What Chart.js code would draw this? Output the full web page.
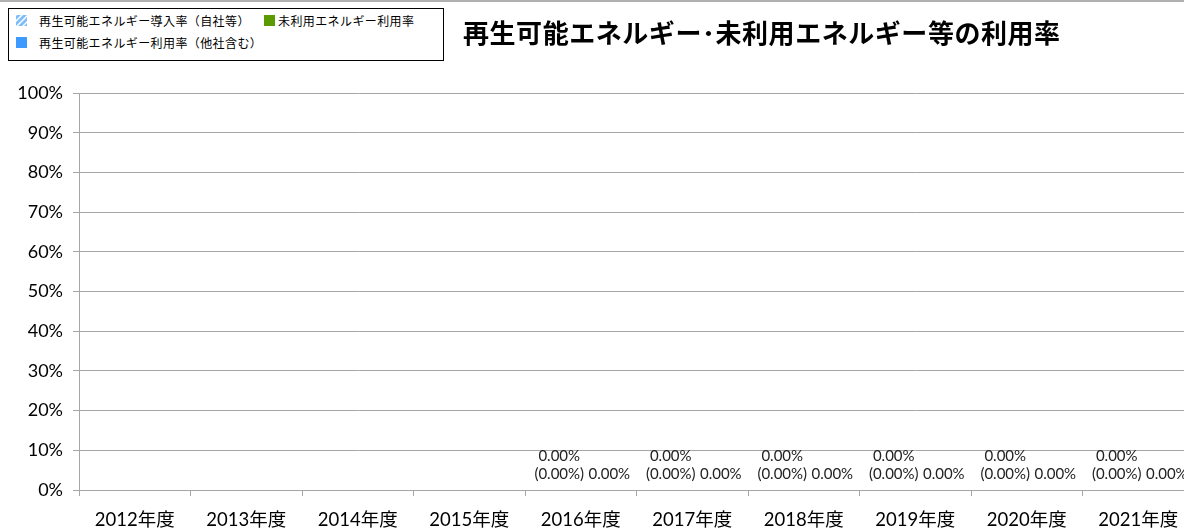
<!DOCTYPE html>
<html>
<head>
<meta charset="utf-8">
<script src="https://cdn.jsdelivr.net/npm/chart.js@4.4.0/dist/chart.umd.min.js"></script>
<style>
  body { margin: 0; background: #fff; overflow: hidden; }
  #wrap { position: relative; width: 1184px; height: 529px; overflow: hidden; border-top: 2px solid #b0b0b0; box-sizing: border-box; }
  #chart-box { position: absolute; left: 0; top: -2px; width: 1196px; height: 529px; }
  #legend {
    position: absolute; left: 8px; top: 6px; width: 434px; height: 51px;
    border: 1px solid #000; background: #fff;
    font: 12px "Noto Sans CJK JP", sans-serif; color: #000;
  }
  .item { position: absolute; white-space: nowrap; line-height: 14px; letter-spacing: 0.4px; }
  .swatch { position: absolute; width: 11px; height: 11px; top: 1px; }
  #title {
    position: absolute; left: 463px; top: 11px; line-height: 26px; letter-spacing: 0.55px;
    font: bold 26px "Noto Sans CJK JP", sans-serif; color: #000; white-space: nowrap;
  }
</style>
</head>
<body>
<div id="wrap">
  <div id="chart-box"><canvas id="chart" width="1196" height="529"></canvas></div>
  <div id="legend"></div>
  <div id="title">再生可能エネルギー･未利用エネルギー等の利用率</div>
</div>
<script>
const categories = ["2012年度", "2013年度", "2014年度", "2015年度", "2016年度",
  "2017年度", "2018年度", "2019年度", "2020年度", "2021年度"];
// 再生可能エネルギー導入率（自社等）
const ownRenewable = [null, null, null, null, 0, 0, 0, 0, 0, 0];
// 再生可能エネルギー利用率（他社含む）
const totalRenewable = [null, null, null, null, 0, 0, 0, 0, 0, 0];
// 未利用エネルギー利用率
const unusedEnergy = [null, null, null, null, 0, 0, 0, 0, 0, 0];
const yTicks = [0, 10, 20, 30, 40, 50, 60, 70, 80, 90, 100];

function hatchPattern() {
  const c = document.createElement('canvas');
  c.width = 6; c.height = 6;
  const g = c.getContext('2d');
  g.fillStyle = '#7dbdfc';
  g.fillRect(0, 0, 6, 6);
  g.strokeStyle = '#ffffff';
  g.lineWidth = 1.5;
  g.beginPath();
  g.moveTo(0, 6); g.lineTo(6, 0);
  g.moveTo(-3, 3); g.lineTo(3, -3);
  g.moveTo(3, 9); g.lineTo(9, 3);
  g.stroke();
  return g.createPattern(c, 'repeat');
}

const hatch = hatchPattern();
const fmt = v => v.toFixed(2) + '%';

const valueLabels = {
  id: 'valueLabels',
  afterDatasetsDraw(chart) {
    const ctx = chart.ctx;
    ctx.save();
    ctx.font = '15px Lato, "Noto Sans CJK JP", sans-serif';
    ctx.fillStyle = '#222';
    ctx.textAlign = 'center';
    ctx.textBaseline = 'alphabetic';
    const metaA = chart.getDatasetMeta(1);
    const metaB = chart.getDatasetMeta(2);
    categories.forEach((c, i) => {
      if (totalRenewable[i] !== null) {
        const bar = metaA.data[i];
        ctx.fillText(fmt(totalRenewable[i]), bar.x + 3, bar.y - 29);
        ctx.fillText('(' + fmt(ownRenewable[i]) + ')', bar.x + 3, bar.y - 11);
      }
      if (unusedEnergy[i] !== null) {
        const bar = metaB.data[i];
        ctx.fillText(fmt(unusedEnergy[i]), bar.x + 4, bar.y - 11);
      }
    });
    ctx.restore();
  }
};

const chart = new Chart(document.getElementById('chart'), {
  type: 'bar',
  data: {
    labels: categories,
    datasets: [
      { label: '再生可能エネルギー導入率（自社等）', data: ownRenewable, backgroundColor: hatch, stack: 'a' },
      { label: '再生可能エネルギー利用率（他社含む）', data: totalRenewable, backgroundColor: '#3d9bff', stack: 'a' },
      { label: '未利用エネルギー利用率', data: unusedEnergy, backgroundColor: '#5b9a00', stack: 'b' }
    ]
  },
  options: {
    responsive: false,
    animation: false,
    layout: { padding: { top: 93, right: 2, left: 0, bottom: 0 } },
    plugins: { legend: { display: false }, title: { display: false }, tooltip: { enabled: false } },
    datasets: { bar: { categoryPercentage: 0.88, barPercentage: 0.8 } },
    scales: {
      x: {
        stacked: true,
        grid: { display: true, drawOnChartArea: false, drawTicks: true, tickLength: 6, color: '#a6a6a6', offset: true },
        border: { display: true, color: '#a6a6a6' },
        ticks: { font: { family: 'Lato, "Noto Sans CJK JP", sans-serif', size: 18.5 }, color: '#000', padding: 13, maxRotation: 0, autoSkip: false },
        afterFit(scale) { scale.height = 39; }
      },
      y: {
        stacked: true,
        min: 0, max: 100,
        afterBuildTicks(scale) { scale.ticks = yTicks.map(v => ({ value: v })); },
        grid: { color: '#a6a6a6', tickLength: 6 },
        border: { display: true, color: '#a6a6a6' },
        ticks: { callback: v => v + '%', font: { family: 'Lato, "Noto Sans CJK JP", sans-serif', size: 18 }, color: '#000', padding: 10 },
        afterFit(scale) { scale.width = 79; }
      }
    }
  },
  plugins: [valueLabels]
});

// legend built from the chart's datasets
const legend = document.getElementById('legend');
const spots = [[7, 5], [7, 27], [255, 5]];
[0, 1, 2].forEach((di, k) => {
  const ds = chart.data.datasets[di];
  const item = document.createElement('div');
  item.className = 'item';
  item.style.left = spots[k][0] + 'px';
  item.style.top = spots[k][1] + 'px';
  const sw = document.createElement('canvas');
  sw.className = 'swatch';
  sw.width = 11; sw.height = 11;
  sw.style.left = '0px';
  const g = sw.getContext('2d');
  g.fillStyle = ds.backgroundColor;
  g.fillRect(0, 0, 11, 11);
  item.appendChild(sw);
  const t = document.createElement('span');
  t.textContent = ds.label;
  t.style.marginLeft = di === 2 ? '14px' : '23px';
  item.appendChild(t);
  legend.appendChild(item);
});
</script>
</body>
</html>
